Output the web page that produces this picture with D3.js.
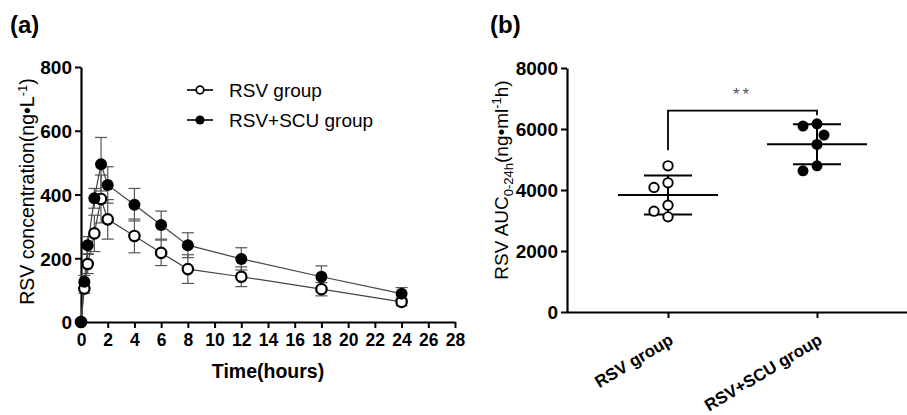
<!DOCTYPE html>
<html>
<head>
<meta charset="utf-8">
<script src="https://cdn.jsdelivr.net/npm/d3@7"></script>
<style>
  html, body { margin: 0; padding: 0; background: #fff; }
  svg { display: block; }
  text { font-family: "Liberation Sans", Arial, Helvetica, sans-serif; }
</style>
</head>
<body>
<svg id="chart" width="907" height="415"></svg>
<script>
// ---------- DATA ----------
const times = [0, 0.25, 0.5, 1, 1.5, 2, 4, 6, 8, 12, 18, 24];
const rsvMean = [0, 105, 182, 278, 386, 322, 270, 217, 166, 142, 103, 63];
const rsvSD   = [0, 15, 30, 57, 75, 62, 53, 40, 45, 31, 21, 12];
const scuMean = [0, 126, 241, 388, 495, 430, 368, 304, 241, 198, 142, 89];
const scuSD   = [0, 20, 27, 31, 84, 57, 51, 44, 39, 35, 34, 19];
const xTicksA = [0, 2, 4, 6, 8, 10, 12, 14, 16, 18, 20, 22, 24, 26, 28];
const yTicksA = [0, 200, 400, 600, 800];
const seriesNames = ["RSV group", "RSV+SCU group"];

const groups = ["RSV group", "RSV+SCU group"];
const aucRSV = [4793, 4235, 4083, 3503, 3306, 3119];
const aucSCU = [6171, 6096, 5801, 5495, 4793, 4629];
const yTicksB = [0, 2000, 4000, 6000, 8000];
const sigLabel = "**";

// ---------- SETUP ----------
const svg = d3.select("#chart");
svg.append("rect").attr("width", 907).attr("height", 415).attr("fill", "#fff");
const FONT = '"Liberation Sans", Arial, Helvetica, sans-serif';

// ============ PANEL A ============
const xA = d3.scaleLinear().domain([0, 28]).range([81, 455]);
const yA = d3.scaleLinear().domain([0, 800]).range([322, 67]);
const gA = svg.append("g");

const xAxisA = gA.append("g").attr("transform", `translate(0,${yA(0)})`)
  .call(d3.axisBottom(xA).tickValues(xTicksA).tickSize(6).tickPadding(6).tickSizeOuter(0));
const yAxisA = gA.append("g").attr("transform", `translate(${xA(0)},0)`)
  .call(d3.axisLeft(yA).tickValues(yTicksA).tickSize(6).tickPadding(3).tickSizeOuter(0));
[xAxisA, yAxisA].forEach(ax => {
  ax.select(".domain").attr("stroke", "#000").attr("stroke-width", 2.2);
  ax.selectAll(".tick line").attr("stroke", "#000").attr("stroke-width", 2);
  ax.selectAll(".tick text").attr("fill", "#000").attr("font-family", FONT)
    .attr("font-weight", "bold");
});
xAxisA.selectAll(".tick text").attr("font-size", 17.5);
yAxisA.selectAll(".tick text").attr("font-size", 19).attr("dy", "0.36em");

const seriesA = [
  { name: seriesNames[0], mean: rsvMean, sd: rsvSD, filled: false },
  { name: seriesNames[1], mean: scuMean, sd: scuSD, filled: true }
];
const line = d3.line().x(d => xA(d.t)).y(d => yA(d.m));
const cap = 6;
seriesA.forEach(s => {
  const pts = times.map((t, i) => ({ t, m: s.mean[i], sd: s.sd[i] }));
  const eb = gA.append("g").attr("stroke", "#555").attr("stroke-width", 1.2).attr("fill", "none");
  pts.filter(p => p.sd > 0).forEach(p => {
    eb.append("line").attr("x1", xA(p.t)).attr("x2", xA(p.t))
      .attr("y1", yA(p.m - p.sd)).attr("y2", yA(p.m + p.sd));
    [p.m - p.sd, p.m + p.sd].forEach(v => {
      eb.append("line").attr("x1", xA(p.t) - cap).attr("x2", xA(p.t) + cap)
        .attr("y1", yA(v)).attr("y2", yA(v));
    });
  });
  s.pts = pts;
});
seriesA.forEach(s => {
  gA.append("path").datum(s.pts).attr("d", line)
    .attr("fill", "none").attr("stroke", "#444").attr("stroke-width", 1.2);
});
seriesA.forEach(s => {
  gA.append("g").selectAll("circle").data(s.pts).join("circle")
    .attr("cx", d => xA(d.t)).attr("cy", d => yA(d.m))
    .attr("r", s.filled ? 6 : 5.2)
    .attr("fill", s.filled ? "#000" : "#fff")
    .attr("stroke", "#000").attr("stroke-width", s.filled ? 0 : 2.2);
});

// legend
const legA = gA.append("g");
seriesA.forEach((s, i) => {
  const y = 90 + i * 30;
  legA.append("line").attr("x1", 187).attr("x2", 213).attr("y1", y).attr("y2", y)
    .attr("stroke", "#000").attr("stroke-width", 1.6);
  legA.append("circle").attr("cx", 200).attr("cy", y).attr("r", s.filled ? 4.6 : 3.8)
    .attr("fill", s.filled ? "#000" : "#fff").attr("stroke", "#000")
    .attr("stroke-width", s.filled ? 0 : 1.8);
  legA.append("text").attr("x", 229).attr("y", y).attr("dy", "0.36em")
    .attr("font-size", 19).attr("fill", "#000").text(s.name);
});

// axis titles
gA.append("text").attr("x", (xA(0) + xA(28)) / 2).attr("y", 378)
  .attr("text-anchor", "middle").attr("font-size", 19.5).attr("font-weight", "bold")
  .text("Time(hours)");
const ytA = gA.append("text").attr("transform", `translate(34,${(yA(0) + yA(800)) / 2 - 3}) rotate(-90)`)
  .attr("text-anchor", "middle").attr("font-size", 19.5).attr("fill", "#000");
ytA.append("tspan").text("RSV concentration(ng•L");
ytA.append("tspan").attr("dy", -7).attr("font-size", 13).text("-1");
ytA.append("tspan").attr("dy", 7).text(")");

svg.append("text").attr("x", 10).attr("y", 33).attr("font-size", 24)
  .attr("font-weight", "bold").text("(a)");

// ============ PANEL B ============
const xB = d3.scalePoint().domain(groups).range([668, 817]);
const yB = d3.scaleLinear().domain([0, 8000]).range([312, 68]);
const gB = svg.append("g");

const xAxisB = gB.append("g").attr("transform", `translate(0,${yB(0)})`)
  .call(d3.axisBottom(xB).tickSize(6).tickSizeOuter(0));
xAxisB.select(".domain").attr("d", `M567,0.5H907`);
const yAxisB = gB.append("g").attr("transform", `translate(567,0)`)
  .call(d3.axisLeft(yB).tickValues(yTicksB).tickFormat(d3.format("d"))
    .tickSize(6).tickPadding(3).tickSizeOuter(0));
[xAxisB, yAxisB].forEach(ax => {
  ax.select(".domain").attr("stroke", "#000").attr("stroke-width", 2.2);
  ax.selectAll(".tick line").attr("stroke", "#000").attr("stroke-width", 2);
  ax.selectAll(".tick text").attr("fill", "#000").attr("font-family", FONT)
    .attr("font-weight", "bold");
});
yAxisB.selectAll(".tick text").attr("font-size", 19).attr("dy", "0.36em");
xAxisB.selectAll(".tick text")
  .attr("font-size", 17).attr("text-anchor", "end").attr("y", 0).attr("dy", 0)
  .attr("transform", "translate(6,31) rotate(-31)");

// scatter with simple dodge
const r = 5.5;
const datasetsB = [
  { g: groups[0], vals: aucRSV, filled: false },
  { g: groups[1], vals: aucSCU, filled: true }
];
datasetsB.forEach(ds => {
  const cx0 = xB(ds.g);
  const placed = [];
  const step = 7;
  const cands = [0, -1, 1, -2, 2, -3, 3].map(k => k * step);
  ds.vals.forEach(v => {
    const cy = yB(v);
    let off = 0;
    for (const c of cands) {
      if (placed.every(p => Math.hypot(p.dx - c, p.cy - cy) >= 2 * r + 0.5)) { off = c; break; }
    }
    placed.push({ dx: off, cy, v });
  });
  const mean = d3.mean(ds.vals), sd = d3.deviation(ds.vals);
  const sg = gB.append("g").attr("stroke", "#000").attr("stroke-width", 2);
  sg.append("line").attr("x1", cx0 - 50).attr("x2", cx0 + 50).attr("y1", yB(mean)).attr("y2", yB(mean));
  sg.append("line").attr("x1", cx0).attr("x2", cx0).attr("y1", yB(mean - sd)).attr("y2", yB(mean + sd));
  [mean - sd, mean + sd].forEach(v => {
    sg.append("line").attr("x1", cx0 - 24).attr("x2", cx0 + 24).attr("y1", yB(v)).attr("y2", yB(v));
  });
  gB.append("g").selectAll("circle").data(placed).join("circle")
    .attr("cx", d => cx0 + d.dx).attr("cy", d => d.cy)
    .attr("r", ds.filled ? r : r - 0.8)
    .attr("fill", ds.filled ? "#000" : "#fff")
    .attr("stroke", "#000").attr("stroke-width", ds.filled ? 0 : 1.9);
});

// significance bracket
gB.append("path")
  .attr("d", `M${xB(groups[0])},${yB(5300)}V${yB(6600)}H${xB(groups[1])}V${yB(6450)}`)
  .attr("fill", "none").attr("stroke", "#000").attr("stroke-width", 1.8);
gB.append("text").attr("x", (xB(groups[0]) + xB(groups[1])) / 2).attr("y", 100)
  .attr("text-anchor", "middle").attr("font-size", 17).attr("fill", "#555")
  .attr("letter-spacing", 3).text(sigLabel);

// y title B
const ytB = gB.append("text").attr("transform", `translate(508,180) rotate(-90)`)
  .attr("text-anchor", "middle").attr("font-size", 19).attr("fill", "#000");
ytB.append("tspan").text("RSV AUC");
ytB.append("tspan").attr("dy", 5).attr("font-size", 13).text("0-24h");
ytB.append("tspan").attr("dy", -5).text("(ng•ml");
ytB.append("tspan").attr("dy", -7).attr("font-size", 13).text("-1");
ytB.append("tspan").attr("dy", 7).text("h)");

svg.append("text").attr("x", 490).attr("y", 33).attr("font-size", 24)
  .attr("font-weight", "bold").text("(b)");
</script>
</body>
</html>
